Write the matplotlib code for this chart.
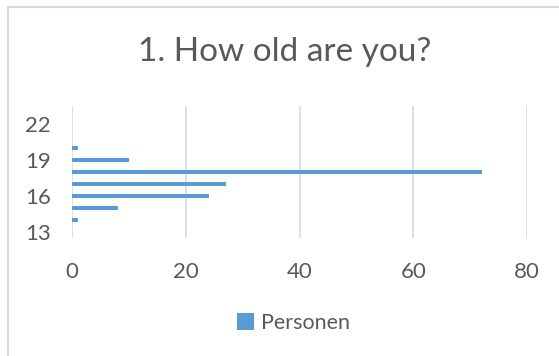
import matplotlib.pyplot as plt
from matplotlib.patches import Rectangle

# age -> number of people
ages = [14, 15, 16, 17, 18, 19, 20]
personen = [1, 8, 24, 27, 72, 10, 1]
y_ticks = [13, 16, 19, 22]
x_ticks = [0, 20, 40, 60, 80]

plt.rcParams['font.family'] = ['Lato', 'DejaVu Sans']
grey = '#595959'
blue = '#5b9bd5'

fig = plt.figure(figsize=(5.59, 3.56), dpi=100)
ax = fig.add_axes([72 / 559, 1 - 238 / 356, 455 / 559, 132 / 356])

ax.barh(ages, personen, height=0.4, color=blue, label='Personen', zorder=3)
ax.set_xlim(0, 80)
ax.set_ylim(12.5, 23.5)
ax.set_xticks(x_ticks)
ax.set_yticks(y_ticks)
ax.grid(axis='x', color='#d9d9d9', linewidth=1.2, zorder=0)
for s in ax.spines.values():
    s.set_visible(False)
ax.tick_params(length=0, labelsize=16, labelcolor=grey)
ax.tick_params(axis='x', pad=17)
ax.tick_params(axis='y', pad=15)

fig.text(0.51, 1 - 52 / 356, '1. How old are you?', ha='center', va='center',
         fontsize=24, color=grey)

fig.legend(loc='center', bbox_to_anchor=(0.525, 1 - 323 / 356), frameon=False,
           fontsize=15.5, labelcolor=grey, handlelength=0.8, handleheight=0.8,
           handletextpad=0.35)

# outer chart border
fig.patches.append(Rectangle((7.5 / 559, -0.1), 1.2, 1 - 6.5 / 356 + 0.1,
                             transform=fig.transFigure, fill=False,
                             edgecolor='#d9d9d9', linewidth=1.5))

plt.savefig('out.png', dpi=100)
